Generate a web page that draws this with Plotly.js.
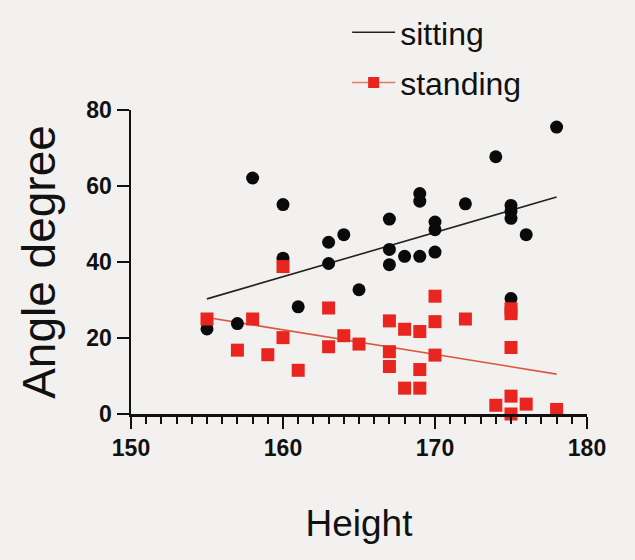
<!DOCTYPE html>
<html>
<head>
<meta charset="utf-8">
<script src="https://cdn.plot.ly/plotly-3.0.1.min.js"></script>
<style>html,body{margin:0;padding:0;background:#f2f1f0;}#chart{width:635px;height:560px;}</style>
</head>
<body>
<div id="chart"></div>
<script>
// sitting (black circles)
const sittingHeight = [155,157,158,160,160,161,163,163,164,165,167,167,167,168,169,169,169,170,170,170,172,174,175,175,175,175,176,178];
const sittingAngle  = [22.4,23.8,62.1,55.1,41,28.2,45.2,39.6,47.2,32.7,51.3,43.3,39.3,41.5,41.5,58,56,50.5,48.5,42.6,55.3,67.7,54.9,53.3,51.5,30.4,47.2,75.5];
// standing (red squares)
const standingHeight = [155,157,158,159,160,160,161,163,163,164,165,167,167,167,168,168,169,169,169,170,170,170,172,174,175,175,175,175,175,176,178];
const standingAngle  = [25,16.8,25,15.6,38.8,20.1,11.5,27.9,17.7,20.6,18.4,24.5,16.4,12.5,22.3,6.8,21.7,11.7,6.8,31,24.3,15.5,25,2.3,27.7,26.4,17.5,4.7,0,2.6,1.2];
// fitted lines (ends)
const fitHeight = [155,178];
const sittingFit = [30.3,57.1];
const standingFit = [25.4,10.5];
const xTicks = [150,160,170,180];
const yTicks = [0,20,40,60,80];

const bg = '#f2f1f0';
const red = '#e8261f';
const font = 'Liberation Sans, Arial, sans-serif';

const traces = [
  {x: fitHeight, y: standingFit, mode:'lines', line:{color:'#d9573f', width:1.6}, showlegend:false, hoverinfo:'skip'},
  {x: fitHeight, y: sittingFit, mode:'lines', line:{color:'#222', width:1.6}, name:'sitting', legend:'legend', showlegend:true},
  {x: sittingHeight, y: sittingAngle, mode:'markers', marker:{symbol:'circle', size:13, color:'#0a0a0a'}, showlegend:false, cliponaxis:false},
  {x: standingHeight, y: standingAngle, mode:'markers', marker:{symbol:'square', size:13, color:red}, showlegend:false, cliponaxis:false},
  {x: [null], y: [null], mode:'lines+markers', name:'standing', legend:'legend2', showlegend:true,
   line:{color:'#e27a66', width:1.6}, marker:{symbol:'square', size:11, color:red}}
];

const layout = {
  width:635, height:560,
  paper_bgcolor:bg, plot_bgcolor:bg,
  margin:{l:131, r:48, t:110, b:146, autoexpand:false},
  font:{family:font, color:'#111'},
  xaxis:{
    range:[150,180], tickvals:xTicks, ticks:'outside', ticklen:12, tickwidth:2.2, tickcolor:'#111',
    showline:true, linewidth:2.5, linecolor:'#111', showgrid:false, zeroline:false,
    tickfont:{family:font, size:23, weight:'bold', color:'#111'},
    minor:{dtick:1, ticks:'outside', ticklen:7, tickwidth:2, tickcolor:'#111', showgrid:false},
    title:{text:'Height', font:{family:font, size:37, color:'#111'}, standoff:50}
  },
  yaxis:{
    range:[0,80], tickvals:yTicks, ticks:'outside', ticklen:12, tickwidth:2.2, tickcolor:'#111',
    showline:true, linewidth:2.5, linecolor:'#111', showgrid:false, zeroline:false,
    tickfont:{family:font, size:23, weight:'bold', color:'#111'},
    title:{text:'Angle degree', font:{family:font, size:46, color:'#111'}, standoff:16}
  },
  legend:{x:0.474, y:1.255, xanchor:'left', yanchor:'middle', bgcolor:'rgba(0,0,0,0)', itemwidth:43,
          font:{family:font, size:32, color:'#111'}},
  legend2:{x:0.474, y:1.09, xanchor:'left', yanchor:'middle', bgcolor:'rgba(0,0,0,0)', itemwidth:43,
          font:{family:font, size:32, color:'#111'}},
  showlegend:true
};

Plotly.newPlot('chart', traces, layout, {displayModeBar:false, staticPlot:true});
</script>
</body>
</html>
